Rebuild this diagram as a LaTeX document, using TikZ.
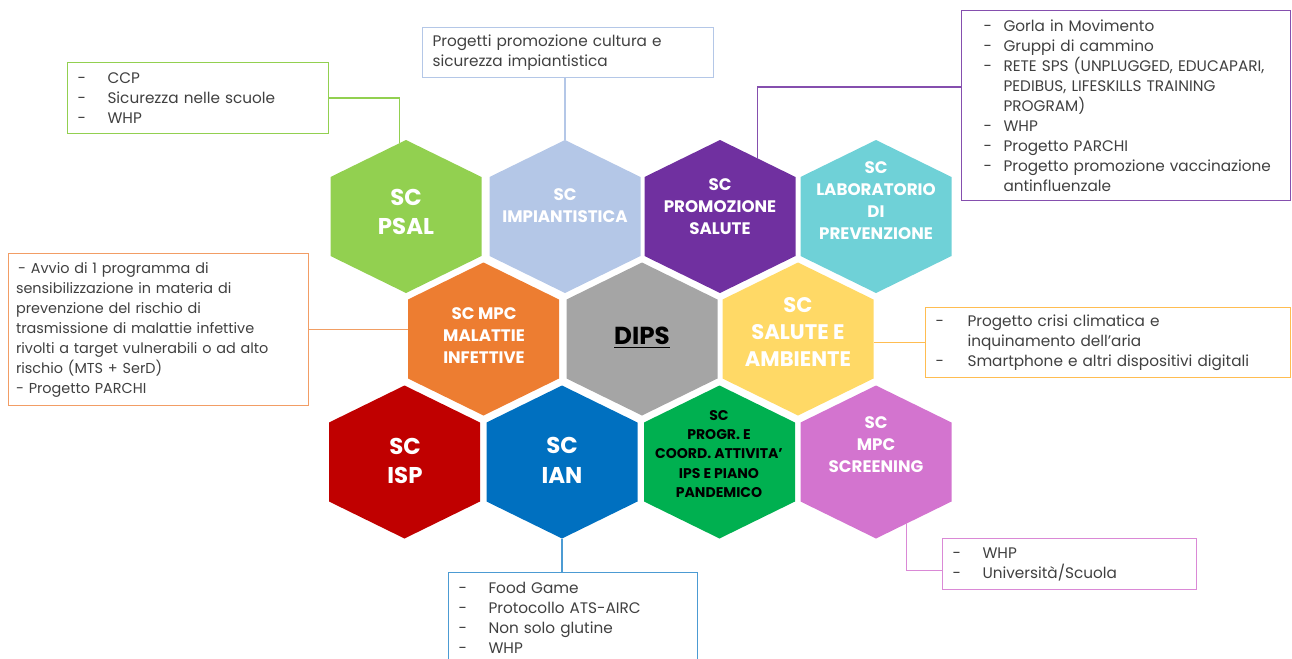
\documentclass[tikz,border=0pt]{standalone}
\usepackage{fontspec}
\setmainfont{Poppins}
\usepackage{xcolor}
\usepackage{tikz}
\usetikzlibrary{
	calc,
	positioning,
	}

\definecolor{psalgreen}{HTML}{92D050}
\definecolor{impblue}{HTML}{B4C7E7}
\definecolor{promopurple}{HTML}{7030A0}
\definecolor{labteal}{HTML}{6FD1D7}
\definecolor{mpcorange}{HTML}{ED7D31}
\definecolor{dipsgrey}{HTML}{A5A5A5}
\definecolor{salyellow}{HTML}{FFD966}
\definecolor{ispred}{HTML}{C00000}
\definecolor{ianblue}{HTML}{0070C0}
\definecolor{progrgreen}{HTML}{00B050}
\definecolor{scrpink}{HTML}{D374CF}
\definecolor{boxtext}{HTML}{404040}

\newcommand{\itm}[2][0.6cm]{\makebox[#1][l]{-}#2}

\tikzset{
	hexa/.pic={
		\path[pic actions] (0,-76.5) -- (75.5,-39.5) -- (75.5,39.5) -- (0,76.5) -- (-75.5,39.5) -- (-75.5,-39.5) -- cycle;
		\coordinate (-n) at (0,-76.5);
		\coordinate (-ne) at (75.5,-39.5);
		\coordinate (-se) at (75.5,39.5);
		\coordinate (-s) at (0,76.5);
		\coordinate (-sw) at (-75.5,39.5);
		\coordinate (-nw) at (-75.5,-39.5);
	},
	hexbig/.style={text=white, align=center, font=\fontsize{13}{17}\selectfont\bfseries},
	hexmid/.style={text=white, align=center, font=\fontsize{9.5}{12.5}\selectfont\bfseries},
	infobox/.style={draw, anchor=north west, align=left, inner xsep=0.2cm, inner ysep=0pt, line width=0.6pt, text=boxtext, font=\fontsize{8.7}{11.38}\selectfont},
	conn/.style={line width=0.6pt},
}

\begin{document}
\begin{tikzpicture}[x=0.02cm, y=-0.02cm]
	\useasboundingbox (0,0) rectangle (1292,659);

	% hexagons
	\pic[fill=psalgreen] (psal) at (406,216.5) {hexa};
	\pic[fill=impblue] (imp) at (565,216.5) {hexa};
	\pic[fill=promopurple] (promo) at (720,216.5) {hexa};
	\pic[fill=labteal] (lab) at (876,216.5) {hexa};
	\pic[fill=mpcorange] (mpc) at (483.5,339) {hexa};
	\pic[fill=dipsgrey] (dips) at (642,339) {hexa};
	\pic[fill=salyellow] (sal) at (798,339) {hexa};
	\pic[fill=ispred] (isp) at (404.5,462) {hexa};
	\pic[fill=ianblue] (ian) at (562,462) {hexa};
	\pic[fill=progrgreen] (progr) at (719.5,462) {hexa};
	\pic[fill=scrpink] (scr) at (876,462) {hexa};

	\node[hexbig] (psaltext) at (406,212) {SC\\PSAL};
	\node[hexmid] (imptext) at (565,206) {SC\\IMPIANTISTICA};
	\node[hexmid] (promotext) at (720,207) {SC\\PROMOZIONE\\SALUTE};
	\node[hexmid] (labtext) at (876,201) {SC\\LABORATORIO\\DI\\PREVENZIONE};
	\node[hexmid] (mpctext) at (484,336) {SC MPC\\MALATTIE\\INFETTIVE};
	\node[text=black, font=\fontsize{14}{17}\selectfont\bfseries] (dipstext) at (642,338) {\underline{DIPS}};
	\node[hexmid, font=\fontsize{12}{15.3}\selectfont\bfseries] (saltext) at (798,332) {SC\\SALUTE E\\AMBIENTE};
	\node[hexbig] (isptext) at (405,461) {SC\\ISP};
	\node[hexbig] (iantext) at (562,460) {SC\\IAN};
	\node[align=center, text=black, font=\fontsize{8}{11}\selectfont\bfseries] (progrtext) at (719,454) {SC\\PROGR. E\\COORD. ATTIVITA’\\IPS E PIANO\\PANDEMICO};
	\node[hexmid] (scrtext) at (876,445) {SC\\MPC\\SCREENING};

	% boxes
	\node[infobox, draw=psalgreen, minimum width=5.22cm, minimum height=1.42cm, text width=4.82cm] (psalbox) at (67,62)
		{\itm{CCP}\\\itm{Sicurezza nelle scuole}\\\itm{WHP}};
	\node[infobox, draw=impblue, minimum width=5.82cm, minimum height=1cm, text width=5.42cm] (impbox) at (422,27)
		{Progetti promozione cultura e\\sicurezza impiantistica};
	\node[infobox, draw=promopurple!85, minimum width=6.58cm, minimum height=3.8cm, text width=6.18cm] (promobox) at (961,10)
		{\hspace*{0.24cm}\itm[0.4cm]{Gorla in Movimento}\\
		\hspace*{0.24cm}\itm[0.4cm]{Gruppi di cammino}\\
		\hspace*{0.24cm}\itm[0.4cm]{RETE SPS (UNPLUGGED, EDUCAPARI,}\\
		\hspace*{0.64cm}PEDIBUS, LIFESKILLS TRAINING\\
		\hspace*{0.64cm}PROGRAM)\\
		\hspace*{0.24cm}\itm[0.4cm]{WHP}\\
		\hspace*{0.24cm}\itm[0.4cm]{Progetto PARCHI}\\
		\hspace*{0.24cm}\itm[0.4cm]{Progetto promozione vaccinazione}\\
		\hspace*{0.64cm}antinfluenzale};
	\node[infobox, draw=mpcorange!75, minimum width=6cm, minimum height=3.04cm, text width=5.7cm, inner xsep=0.15cm, font=\fontsize{8.2}{11.38}\selectfont] (mpcbox) at (8,253)
		{\hspace*{0.15em}- Avvio di 1 programma di\\
		sensibilizzazione in materia di\\
		prevenzione del rischio di\\
		trasmissione di malattie infettive\\
		rivolti a target vulnerabili o ad alto\\
		rischio (MTS + SerD)\\
		- Progetto PARCHI};
	\node[infobox, draw=salyellow!60!orange!90, minimum width=7.3cm, minimum height=1.4cm, text width=6.9cm] (salbox) at (925,307)
		{\itm[0.64cm]{Progetto crisi climatica e}\\
		\hspace*{0.64cm}inquinamento dell’aria\\
		\itm[0.64cm]{Smartphone e altri dispositivi digitali}};
	\node[infobox, draw=ianblue!70, minimum width=4.98cm, minimum height=1.8cm, text width=4.58cm] (ianbox) at (448,572)
		{\itm{Food Game}\\\itm{Protocollo ATS-AIRC}\\\itm{Non solo glutine}\\\itm{WHP}};
	\node[infobox, draw=scrpink!85, minimum width=5.08cm, minimum height=1.02cm, text width=4.68cm] (scrbox) at (942,538)
		{\itm{WHP}\\\itm{Università/Scuola}};

	% connectors
	\draw[conn, psalgreen] (psalbox.east) -| ($(psal-n)!0.09!(psal-nw)$);
	\draw[conn, impblue] (impbox.south -| imp-n) -- (imp-n);
	\draw[conn, promopurple!85] ($(promobox.north west)+(0,77)$) -| ($(promo-n)!0.5!(promo-ne)$);
	\draw[conn, mpcorange!75] (mpcbox.east) -- (mpcbox.east -| mpc-nw);
	\draw[conn, salyellow!60!orange!90] (salbox.west) -- (salbox.west -| sal-ne);
	\draw[conn, ianblue!70] (ian-s) -- (ian-s |- ianbox.north);
	\draw[conn, scrpink!85] ($(scr-s)!0.41!(scr-se)$) |- ($(scrbox.west)+(0,6)$);
\end{tikzpicture}
\end{document}
